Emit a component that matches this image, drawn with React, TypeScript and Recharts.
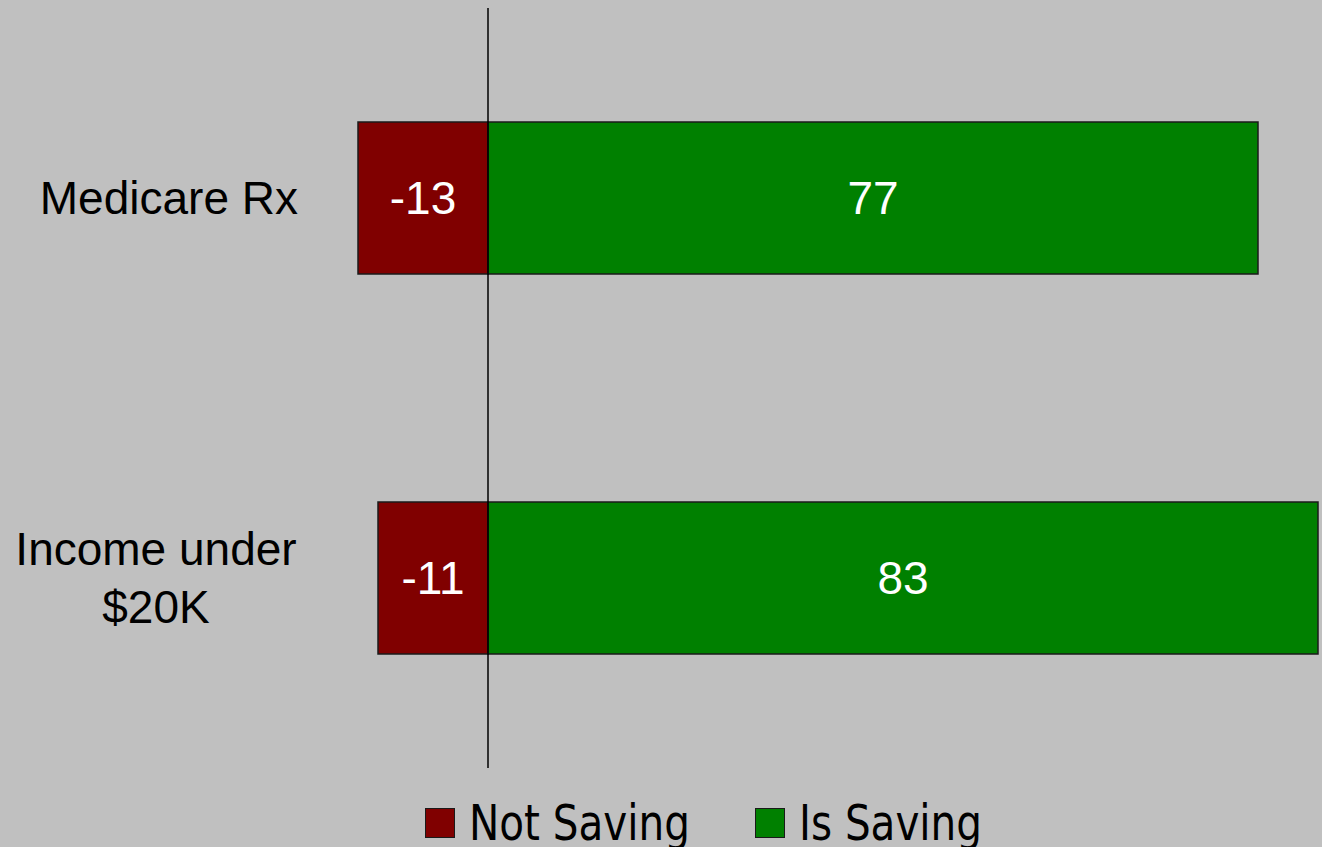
import { BarChart, Bar, XAxis, YAxis, ReferenceLine, LabelList } from "recharts";

// Chart data
const categories = ["Medicare Rx", "Income under\n$20K"];
const notSaving = [-13, -11];
const isSaving = [77, 83];
const seriesNames = ["Not Saving", "Is Saving"];

const colors = {
    notSaving: "#800000",
    isSaving: "#008000",
    border: "#1a1a1a",
    bg: "#C0C0C0",
};

const font = "'Liberation Sans', Arial, sans-serif";

const data = categories.map((name, i) => ({
    name,
    notSaving: notSaving[i],
    isSaving: isSaving[i],
}));

// Multi-line category labels, centered lines like the original
function CategoryTick(props: any)
{
    const { x, y, payload } = props;
    const lines: string[] = String(payload.value).split("\n");
    const lineHeight = 58;
    const startY = y - ((lines.length - 1) * lineHeight) / 2;
    const multi = lines.length > 1;
    return (
        <text
            x={multi ? x - 142 : x}
            y={startY}
            textAnchor={multi ? "middle" : "end"}
            dominantBaseline="central"
            fontSize={46}
            fontFamily={font}
            fill="#000"
        >
            {lines.map((line, i) => (
                <tspan key={i} x={multi ? x - 142 : x} dy={i === 0 ? 0 : lineHeight}>
                    {line}
                </tspan>
            ))}
        </text>
    );
}

export default function App()
{
    return (
        <div
            style={{
                position: "fixed",
                left: 0,
                top: 0,
                width: 1322,
                height: 847,
                overflow: "hidden",
                background: colors.bg,
            }}
        >
            <BarChart
                width={1340}
                height={847}
                data={data}
                layout="vertical"
                stackOffset="sign"
                barCategoryGap="30%"
                margin={{ top: 8, right: 2, bottom: 79, left: 0 }}
            >
                <XAxis type="number" domain={[-15, 85]} hide />
                <YAxis
                    type="category"
                    dataKey="name"
                    width={338}
                    axisLine={false}
                    tickLine={false}
                    tickSize={0}
                    tickMargin={40}
                    tick={<CategoryTick />}
                />
                <Bar
                    dataKey="notSaving"
                    stackId="a"
                    fill={colors.notSaving}
                    stroke={colors.border}
                    strokeWidth={1.5}
                    isAnimationActive={false}
                >
                    <LabelList dataKey="notSaving" position="center" fill="#fff" fontSize={46} fontFamily={font} />
                </Bar>
                <Bar
                    dataKey="isSaving"
                    stackId="a"
                    fill={colors.isSaving}
                    stroke={colors.border}
                    strokeWidth={1.5}
                    isAnimationActive={false}
                >
                    <LabelList dataKey="isSaving" position="center" fill="#fff" fontSize={46} fontFamily={font} />
                </Bar>
                <ReferenceLine x={0} stroke="#000" strokeWidth={1.5} />
            </BarChart>

            {/* Legend - condensed text, squeezed a bit to match original width */}
            <div
                style={{
                    position: "absolute",
                    left: 425,
                    top: 796,
                    display: "flex",
                    alignItems: "center",
                    fontFamily: "'Liberation Sans Narrow', 'DejaVu Sans Condensed', sans-serif",
                    fontSize: 50,
                    lineHeight: "54px",
                    color: "#000",
                }}
            >
                {seriesNames.map((name, i) => (
                    <div key={name} style={{ display: "flex", alignItems: "center", marginRight: i === 0 ? 41 : 0 }}>
                        <span
                            style={{
                                display: "inline-block",
                                width: 28,
                                height: 28,
                                background: i === 0 ? colors.notSaving : colors.isSaving,
                                border: `1.5px solid ${colors.border}`,
                                marginRight: 14,
                            }}
                        />
                        <span style={{ display: "inline-block", transform: "scaleX(0.9)", transformOrigin: "left center" }}>
                            {name}
                        </span>
                    </div>
                ))}
            </div>
        </div>
    );
}
